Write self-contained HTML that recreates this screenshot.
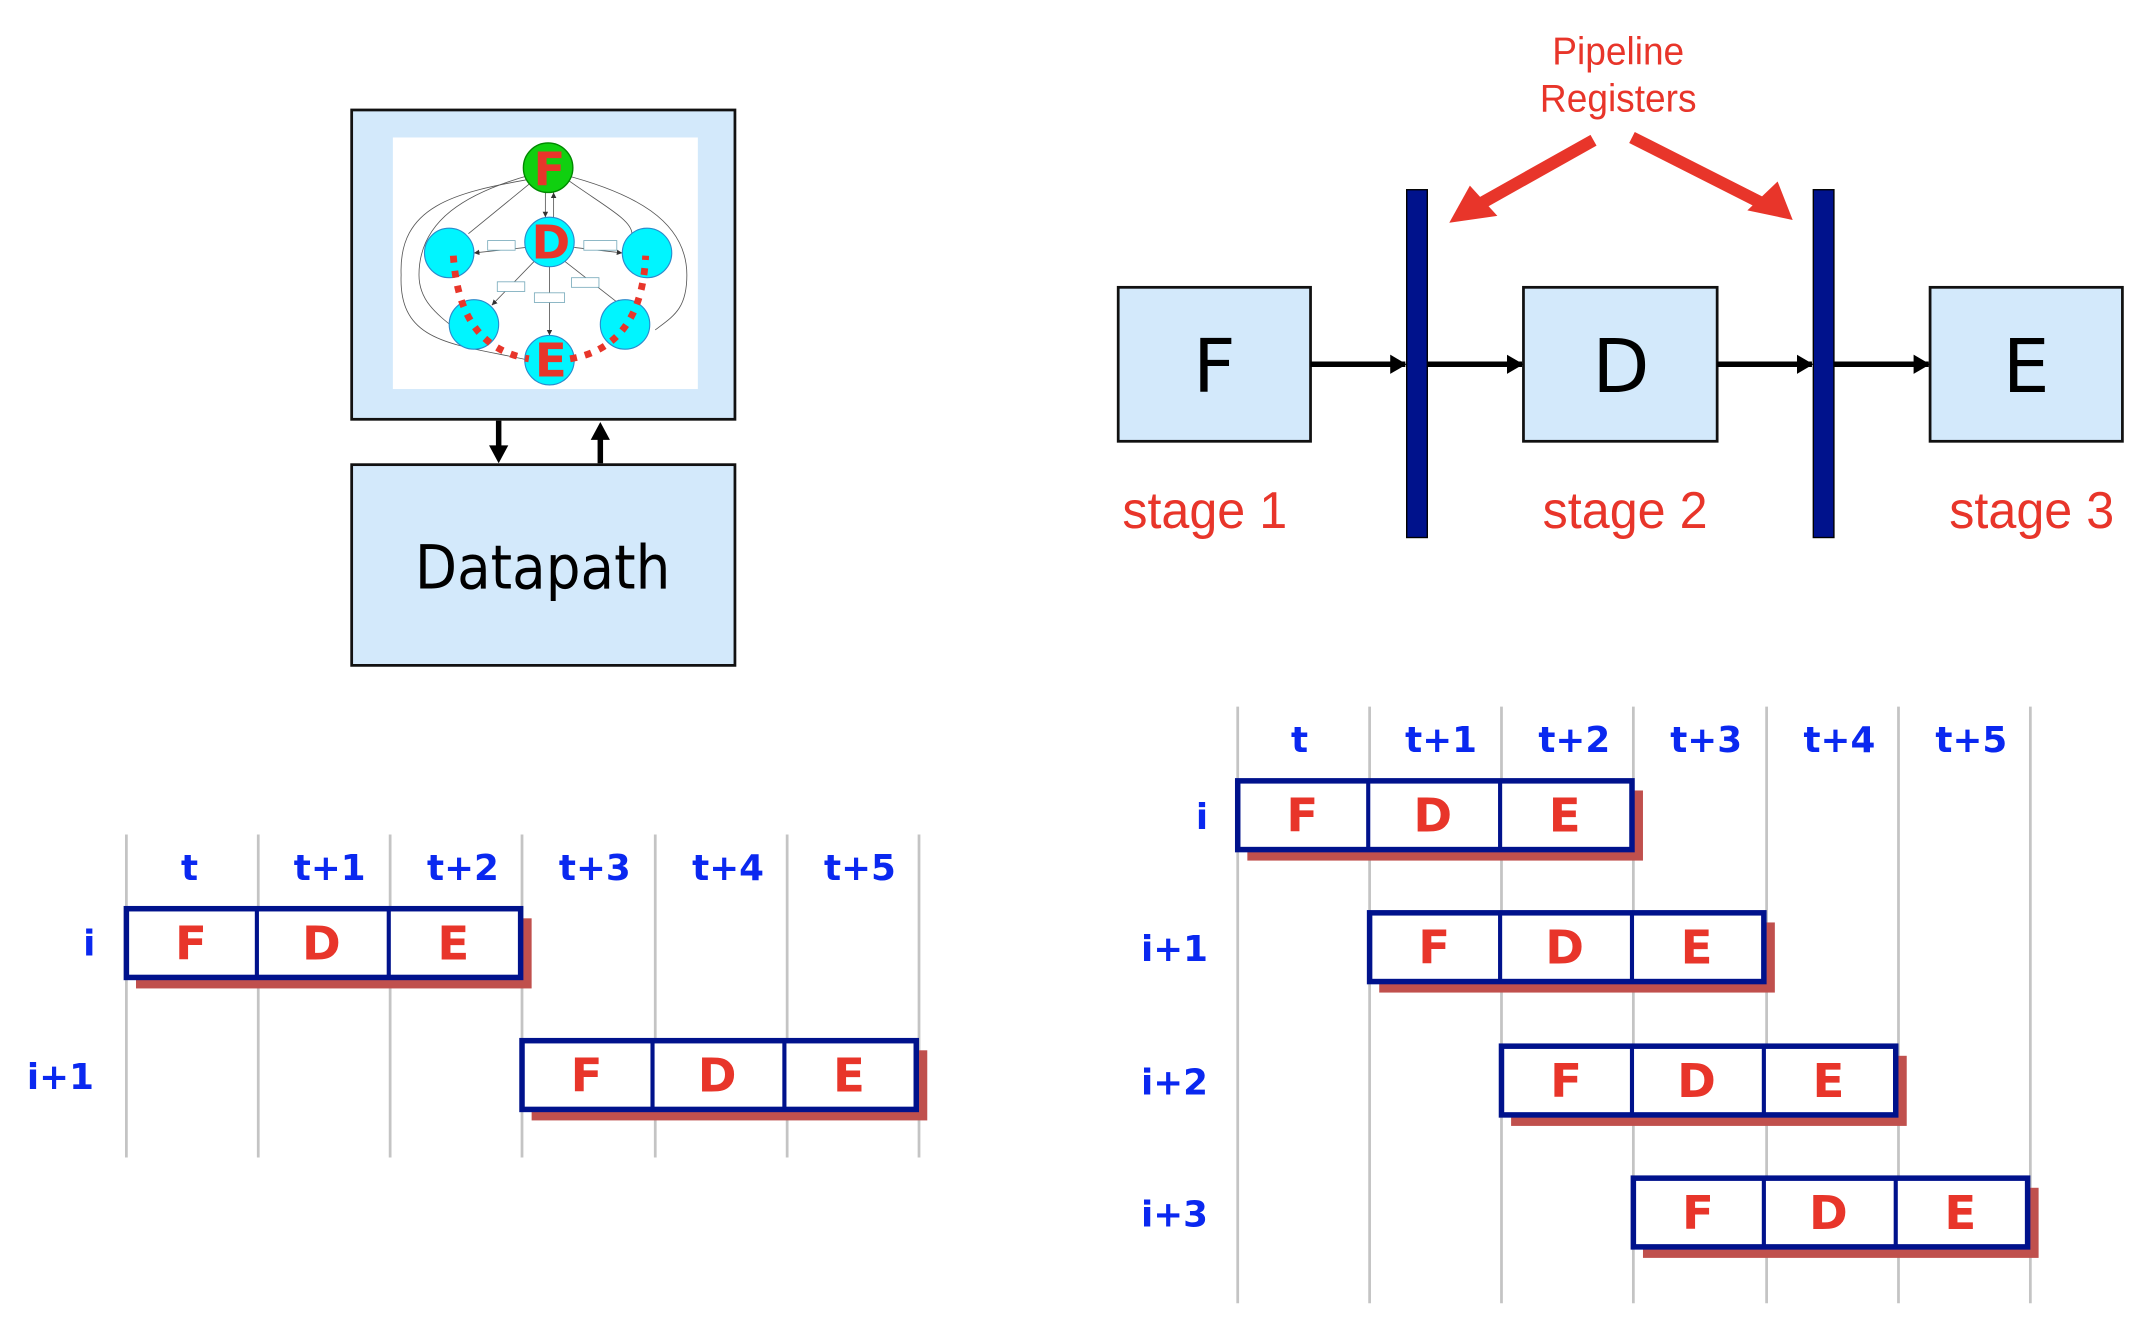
<!DOCTYPE html>
<html><head><meta charset="utf-8"><style>html,body{margin:0;padding:0;background:#fff}svg{display:block}</style></head>
<body>
<svg width="2154" height="1328" viewBox="0 0 1568 966" preserveAspectRatio="none" xmlns="http://www.w3.org/2000/svg">
<defs>
<marker id="ah" markerWidth="12" markerHeight="14" refX="11" refY="7" orient="auto" markerUnits="userSpaceOnUse"><path d="M0,0 L12,7 L0,14 z" fill="#000"/></marker>
<marker id="sm" markerWidth="4" markerHeight="4" refX="4" refY="2" orient="auto" markerUnits="userSpaceOnUse"><path d="M0,0 L4,2 L0,4 z" fill="#333"/></marker>
</defs>
<!-- Top-left -->
<rect x="256" y="80" width="279" height="225" fill="#d3e9fb" stroke="#111" stroke-width="2"/>
<rect x="286" y="100" width="222" height="183" fill="#fff"/>
<g stroke="#555" stroke-width="0.6" fill="none">
<path d="M388,130 C330,140 290,150 292,200 C290,250 330,250 385,262"/>
<path d="M387,127 C340,140 305,160 305,200 C305,220 320,230 335,242"/>
<path d="M341,170 L390,130" marker-end="url(#sm)"/>
<path d="M410,127 C460,140 500,160 500,200 C500,225 490,230 477,240"/>
<path d="M460,170 C460,160 440,150 412,130"/>
<line x1="397" y1="140" x2="397" y2="158" marker-end="url(#sm)"/>
<line x1="403" y1="158" x2="403" y2="140" marker-end="url(#sm)"/>
<line x1="383" y1="180" x2="345" y2="184" marker-end="url(#sm)"/>
<line x1="418" y1="180" x2="453" y2="184" marker-end="url(#sm)"/>
<line x1="389" y1="190" x2="358" y2="222" marker-end="url(#sm)"/>
<line x1="411" y1="190" x2="452" y2="222" marker-end="url(#sm)"/>
<line x1="400" y1="194" x2="400" y2="244" marker-end="url(#sm)"/>
</g>
<g fill="#fff" stroke="#7ab" stroke-width="0.6">
<rect x="355" y="175" width="20" height="7"/><rect x="425" y="175" width="24" height="7"/>
<rect x="362" y="205" width="20" height="7"/><rect x="416" y="202" width="20" height="7"/><rect x="389" y="213" width="22" height="7"/>
</g>
<g fill="#00f5ff" stroke="#2a8acc" stroke-width="0.8">
<circle cx="327" cy="184" r="18"/><circle cx="471" cy="184" r="18"/>
<circle cx="345" cy="236" r="18"/><circle cx="455" cy="236" r="18"/>
<circle cx="400" cy="176" r="18"/><circle cx="400" cy="262" r="18"/>
</g>
<circle cx="399" cy="122" r="18" fill="#10d010" stroke="#080" stroke-width="1"/>
<path d="M330,186 C333,230 350,255 385,261 M415,261 C450,255 468,230 470,186" fill="none" stroke="#e8352a" stroke-width="5" stroke-dasharray="5,6"/>
<g font-family="'DejaVu Sans',sans-serif" font-weight="bold" font-size="34" fill="#e8352a" text-anchor="middle">
<text x="400" y="135">F</text><text x="401" y="188">D</text><text x="401" y="274">E</text>
</g>
<rect x="256" y="338" width="279" height="146" fill="#d3e9fb" stroke="#111" stroke-width="2"/>
<text x="395" y="428" font-family="'DejaVu Sans',sans-serif" font-size="44" text-anchor="middle" textLength="186" lengthAdjust="spacingAndGlyphs">Datapath</text>
<line x1="363" y1="306" x2="363" y2="326" stroke="#000" stroke-width="4"/><path d="M356,324 L370,324 L363,337 z"/>
<line x1="437" y1="337" x2="437" y2="318" stroke="#000" stroke-width="4"/><path d="M430,320 L444,320 L437,307 z"/>
<!-- Top-right -->
<g font-family="'Liberation Sans',sans-serif" fill="#e8352a" text-anchor="middle" lengthAdjust="spacingAndGlyphs">
<text x="1178" y="47" font-size="28" textLength="96" lengthAdjust="spacingAndGlyphs">Pipeline</text><text x="1178" y="81" font-size="28" textLength="114" lengthAdjust="spacingAndGlyphs">Registers</text>
<text x="877" y="384" font-size="38" textLength="120" lengthAdjust="spacingAndGlyphs">stage 1</text><text x="1183" y="384" font-size="38" textLength="120" lengthAdjust="spacingAndGlyphs">stage 2</text><text x="1479" y="384" font-size="38" textLength="120" lengthAdjust="spacingAndGlyphs">stage 3</text>
</g>
<g stroke="#e8352a" stroke-width="9"><line x1="1160" y1="102" x2="1078" y2="148"/><line x1="1188" y1="100" x2="1283" y2="148"/></g>
<path d="M1055,162 L1070,135 L1090,157 z" fill="#e8352a"/>
<path d="M1305,160 L1294,132 L1272,153 z" fill="#e8352a"/>
<g fill="#d3e9fb" stroke="#111" stroke-width="2">
<rect x="814" y="209" width="140" height="112"/><rect x="1109" y="209" width="141" height="112"/><rect x="1405" y="209" width="140" height="112"/>
</g>
<g font-family="'DejaVu Sans',sans-serif" font-size="54" text-anchor="middle">
<text x="884" y="285">F</text><text x="1180" y="285">D</text><text x="1475" y="285">E</text>
</g>
<g stroke="#000" stroke-width="4" marker-end="url(#ah)">
<line x1="954" y1="265" x2="1023" y2="265"/><line x1="1039" y1="265" x2="1108" y2="265"/>
<line x1="1250" y1="265" x2="1319" y2="265"/><line x1="1335" y1="265" x2="1404" y2="265"/>
</g>
<rect x="1024" y="138" width="15" height="253" fill="#00128c" stroke="#000" stroke-width="1"/>
<rect x="1320" y="138" width="15" height="253" fill="#00128c" stroke="#000" stroke-width="1"/>
<!-- Bottom-left timeline -->
<g stroke="#c4c4c4" stroke-width="2">
<line x1="92" y1="607" x2="92" y2="842"/><line x1="188" y1="607" x2="188" y2="842"/><line x1="284" y1="607" x2="284" y2="842"/><line x1="380" y1="607" x2="380" y2="842"/><line x1="477" y1="607" x2="477" y2="842"/><line x1="573" y1="607" x2="573" y2="842"/><line x1="669" y1="607" x2="669" y2="842"/>
</g>
<g font-family="'DejaVu Sans',sans-serif" font-weight="bold" font-size="26" fill="#0a28f0" text-anchor="middle">
<text x="138" y="640">t</text><text x="240" y="640">t+1</text><text x="337" y="640">t+2</text><text x="433" y="640">t+3</text><text x="530" y="640">t+4</text><text x="626" y="640">t+5</text>
<text x="65" y="695">i</text><text x="44" y="792">i+1</text>
</g>
<g id="blk">
<rect x="99" y="668" width="288" height="51" fill="#c0504d"/>
<rect x="92" y="661" width="287" height="50" fill="#fff" stroke="#00128c" stroke-width="4"/>
<line x1="187" y1="661" x2="187" y2="711" stroke="#00128c" stroke-width="3"/>
<line x1="283" y1="661" x2="283" y2="711" stroke="#00128c" stroke-width="3"/>
<g font-family="'DejaVu Sans',sans-serif" font-weight="bold" font-size="34" fill="#e8352a" text-anchor="middle">
<text x="139" y="698">F</text><text x="234" y="698">D</text><text x="330" y="698">E</text></g>
</g>
<use href="#blk" x="288" y="96"/>
<!-- Bottom-right timeline -->
<g stroke="#c4c4c4" stroke-width="2">
<line x1="901" y1="514" x2="901" y2="948"/><line x1="997" y1="514" x2="997" y2="948"/><line x1="1093" y1="514" x2="1093" y2="948"/><line x1="1189" y1="514" x2="1189" y2="948"/><line x1="1286" y1="514" x2="1286" y2="948"/><line x1="1382" y1="514" x2="1382" y2="948"/><line x1="1478" y1="514" x2="1478" y2="948"/>
</g>
<g font-family="'DejaVu Sans',sans-serif" font-weight="bold" font-size="26" fill="#0a28f0" text-anchor="middle">
<text x="946" y="547">t</text><text x="1049" y="547">t+1</text><text x="1146" y="547">t+2</text><text x="1242" y="547">t+3</text><text x="1339" y="547">t+4</text><text x="1435" y="547">t+5</text>
<text x="875" y="603">i</text><text x="855" y="699">i+1</text><text x="855" y="796">i+2</text><text x="855" y="892">i+3</text>
</g>
<use href="#blk" x="809" y="-93"/>
<use href="#blk" x="905" y="3"/>
<use href="#blk" x="1001" y="100"/>
<use href="#blk" x="1097" y="196"/>
</svg>
</body></html>
